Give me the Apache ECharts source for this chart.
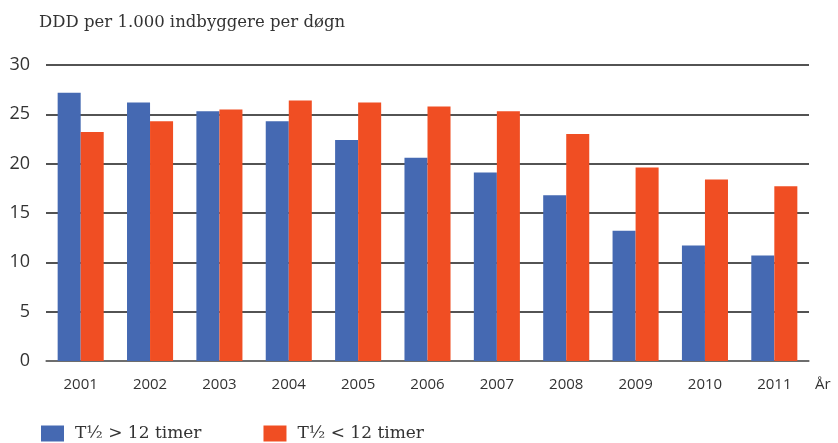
<!DOCTYPE html>
<html>
<head>
<meta charset="utf-8">
<script src="https://cdn.jsdelivr.net/npm/echarts@6/dist/echarts.min.js"></script>
<style>
  html,body{margin:0;padding:0;background:#fff;}
  #chart{width:838px;height:443px;}
</style>
</head>
<body>
<div id="chart"></div>
<script>
// years on the x axis
var years = ['2001','2002','2003','2004','2005','2006','2007','2008','2009','2010','2011'];
// DDD per 1.000 indbyggere per døgn
var longHalf = [27.2, 26.2, 25.3, 24.3, 22.4, 20.6, 19.1, 16.8, 13.2, 11.7, 10.7];
var shortHalf = [23.2, 24.3, 25.5, 26.4, 26.2, 25.8, 25.3, 23.0, 19.6, 18.4, 17.7];
var yTicks = [0, 5, 10, 15, 20, 25, 30];

var chart = echarts.init(document.getElementById('chart'));
var option = {
  animation: false,
  textStyle: {fontFamily: 'Open Sans', color: '#333'},
  title: {
    text: 'DDD per 1.000 indbyggere per døgn',
    left: 34, top: 9,
    textStyle: {fontFamily: 'DejaVu Serif', fontWeight: 'normal', fontSize: 16.5, color: '#333'}
  },
  legend: {
    left: 36, bottom: -4,
    icon: 'rect',
    itemWidth: 23, itemHeight: 16, itemGap: 62,
    textStyle: {fontFamily: 'DejaVu Serif', fontSize: 17, color: '#333', padding: [0, 0, 0, 6]},
    data: ['T½ > 12 timer', 'T½ < 12 timer']
  },
  grid: {left: 46, right: 29, top: 65, bottom: 82},
  xAxis: {
    type: 'category',
    data: years,
    name: 'År',
    nameLocation: 'end',
    nameGap: 6,
    nameTextStyle: {fontSize: 15, color: '#333', verticalAlign: 'top', padding: [16, 0, 0, 0]},
    axisLine: {lineStyle: {color: '#777', width: 1.5}},
    axisTick: {show: false},
    axisLabel: {fontSize: 15, color: '#333', margin: 16}
  },
  yAxis: {
    type: 'value',
    min: yTicks[0], max: yTicks[yTicks.length - 1], interval: 5,
    axisLine: {show: false},
    axisTick: {show: false},
    axisLabel: {fontSize: 18, color: '#333', margin: 16},
    splitLine: {lineStyle: {color: '#1a1a1a', width: 1.5}}
  },
  series: [
    {name: 'T½ > 12 timer', type: 'bar', data: longHalf, barGap: '0%', barCategoryGap: '33.6%',
     itemStyle: {color: '#4569B2'}},
    {name: 'T½ < 12 timer', type: 'bar', data: shortHalf,
     itemStyle: {color: '#F04E23'}}
  ]
};
chart.setOption(option);
</script>
</body>
</html>
